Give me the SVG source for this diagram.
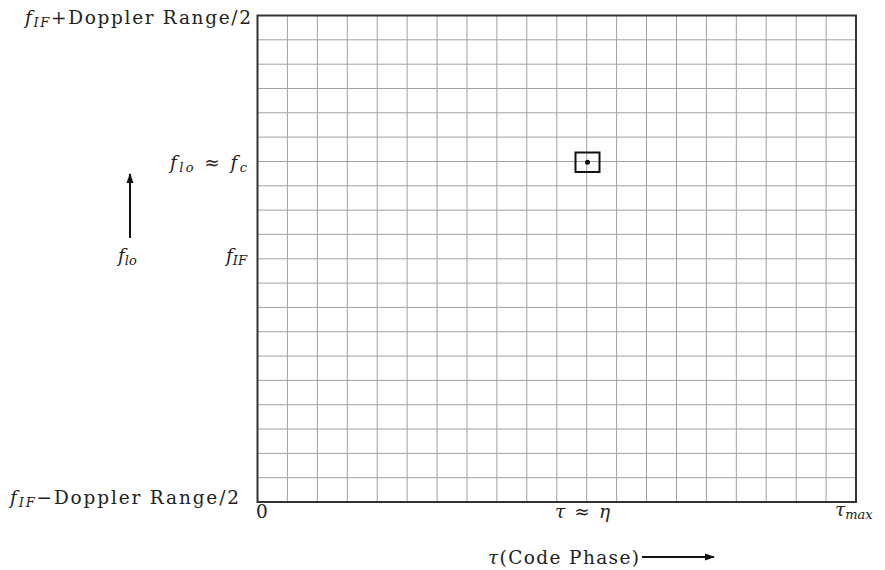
<svg xmlns="http://www.w3.org/2000/svg" width="885" height="570" viewBox="0 0 885 570">
<defs>
<style>
.g{stroke:#a0a0a0;stroke-width:1;fill:none}
.b{stroke:#333;stroke-width:2;fill:none}
text{font-family:"DejaVu Serif","Liberation Serif",serif;font-size:18.5px;fill:#222}
.i{font-style:italic}
.s{font-size:13px;font-style:italic}
</style>
<marker id="ah" viewBox="0 0 10 10" refX="9" refY="5" markerWidth="10" markerHeight="10" markerUnits="userSpaceOnUse" orient="auto">
<path d="M0,1.5 L10,5 L0,8.5 Z" fill="#111"/>
</marker>
</defs>
<rect width="885" height="570" fill="#fff"/>
<g id="grid">
<path class="g" d="M287.4,15.5V502M317.4,15.5V502M347.3,15.5V502M377.2,15.5V502M407.1,15.5V502M437.1,15.5V502M467,15.5V502M496.9,15.5V502M526.8,15.5V502M556.8,15.5V502M586.7,15.5V502M616.6,15.5V502M646.5,15.5V502M676.5,15.5V502M706.4,15.5V502M736.3,15.5V502M766.2,15.5V502M796.2,15.5V502M826.1,15.5V502"/>
<path class="g" d="M257.5,39.8H856M257.5,64.2H856M257.5,88.5H856M257.5,112.8H856M257.5,137.1H856M257.5,161.5H856M257.5,185.8H856M257.5,210.1H856M257.5,234.4H856M257.5,258.8H856M257.5,283.1H856M257.5,307.4H856M257.5,331.7H856M257.5,356.1H856M257.5,380.4H856M257.5,404.7H856M257.5,429H856M257.5,453.4H856M257.5,477.7H856"/>
<rect class="b" x="257.5" y="15.5" width="598.5" height="486.5"/>
</g>
<g id="cell">
<rect x="575.5" y="152.5" width="24" height="19.5" fill="none" stroke="#111" stroke-width="2"/>
<circle cx="587.5" cy="162.2" r="2.5" fill="#111"/>
</g>
<g id="labels">
<text x="25" y="24" textLength="226" lengthAdjust="spacing"><tspan class="i">f</tspan><tspan class="s" dy="3">IF</tspan><tspan dy="-3">+Doppler Range/2</tspan></text>
<text x="170" y="169" textLength="77" lengthAdjust="spacing"><tspan class="i">f</tspan><tspan class="s" dy="3">lo</tspan><tspan dy="-3"> ≈ </tspan><tspan class="i">f</tspan><tspan class="s" dy="3">c</tspan></text>
<text x="118" y="262"><tspan class="i">f</tspan><tspan class="s" dy="3">lo</tspan></text>
<text x="247" y="262" text-anchor="end"><tspan class="i">f</tspan><tspan class="s" dy="3">IF</tspan></text>
<text x="10" y="504" textLength="229" lengthAdjust="spacing"><tspan class="i">f</tspan><tspan class="s" dy="3">IF</tspan><tspan dy="-3">−Doppler Range/2</tspan></text>
<text x="256" y="518">0</text>
<text x="555" y="518" textLength="55" lengthAdjust="spacing"><tspan class="i">τ</tspan> ≈ <tspan class="i">η</tspan></text>
<text x="835" y="516"><tspan class="i">τ</tspan><tspan class="s" dy="3">max</tspan></text>
<text x="488" y="564" textLength="151" lengthAdjust="spacing"><tspan class="i">τ</tspan>(Code Phase)</text>
</g>
<g id="connectors">
<line x1="130" y1="238" x2="130" y2="174" stroke="#111" stroke-width="2" marker-end="url(#ah)"/>
<line x1="642" y1="557" x2="714" y2="557" stroke="#111" stroke-width="2" marker-end="url(#ah)"/>
</g>
</svg>
